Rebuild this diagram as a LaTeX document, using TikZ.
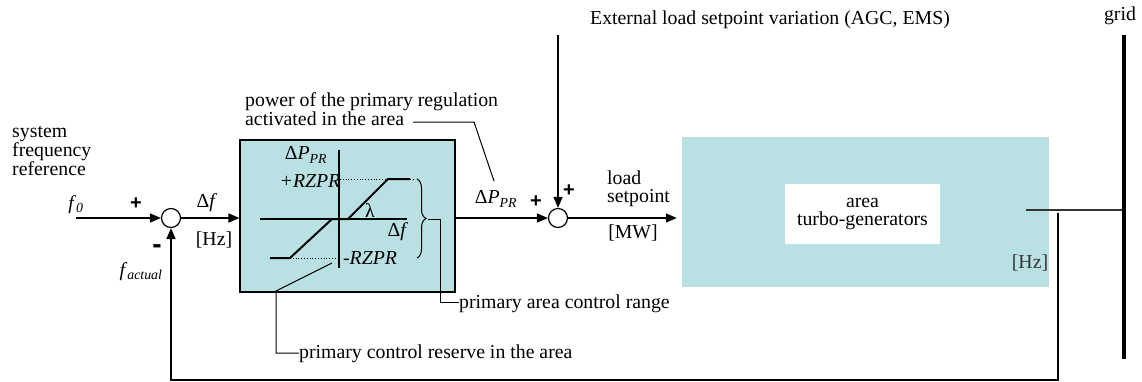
\documentclass[tikz,border=0pt]{standalone}
\usepackage{fontspec}
\setmainfont{Liberation Serif}
\newfontfamily\signfont{Liberation Sans}
\usetikzlibrary{arrows.meta,decorations.pathreplacing}
\definecolor{boxc}{HTML}{B9E0E3}
\definecolor{dgray}{HTML}{333333}
\begin{document}
\begin{tikzpicture}[x=1pt,y=-1pt,
  every node/.style={font=\fontsize{19.8}{18}\selectfont, inner sep=0pt},
  arr/.style={line width=1.6pt,-{Triangle[length=11pt,width=9pt]}},
  ln/.style={line width=1.6pt},
  thinln/.style={line width=1.1pt},
  lead/.style={line width=1pt},
  dots/.style={line width=0.8pt,dotted},
  curve/.style={line width=2pt},
  sumj/.style={circle,draw,line width=1.2pt,minimum size=19pt,fill=white},
  pm/.style={font=\signfont\fontsize{20}{20}\selectfont\bfseries},
  mn/.style={font=\signfont\fontsize{28}{28}\selectfont\bfseries},
  lab/.style={anchor=west,align=left},
]
\useasboundingbox (0,0) rectangle (1142,381);

% blocks
\node[draw, fill=boxc, line width=1.2pt, minimum width=215pt, minimum height=152pt] (b1) at (347.5,216) {};
\node[fill=boxc, minimum width=367pt, minimum height=150pt] (b2) at (865.5,212) {};
\node[fill=white, minimum width=155pt, minimum height=60pt, align=center] (tg) at (862.5,214) {area\\turbo-generators};
\node[text=dgray] (hz2) at (1030,263) {[Hz]};

% summing junctions
\node[sumj] (s1) at (171,218) {};
\node[sumj] (s2) at (558,218) {};

% coordinates
\coordinate (fin) at (76,218);
\coordinate (ext) at (558,35);
\coordinate (gtop) at (1124,35);
\coordinate (gbot) at (1124,359);
\coordinate (gout) at (1026,210);
\coordinate (gin) at (1124,210);
\coordinate (fbtop) at (1058,213);
\coordinate (fbbot) at (1058,380);
\coordinate (fbleft) at (171,380);

% texts
\node (ext-t) at (770,20) {External load setpoint variation (AGC, EMS)};
\node (grid-t) at (1120,16) {grid};
\node[lab] (sfr) at (12,151) {system\\frequency\\reference};
\node (f0) at (76,205) {\textit{f}\textsubscript{\textit{0}}};
\node[pm] (p1) at (136,204) {+};
\node[mn] (m1) at (157,249) {-};
\node (fact) at (141,272) {\textit{f}\textsubscript{\textit{actual}}};
\node (df) at (207,203) {Δ\textit{f}};
\node (hz1) at (214,240) {[Hz]};
\node[lab] (pow) at (245,109) {power of the primary regulation\\activated in the area};
\node (dppr) at (496,199) {Δ\textit{P}\textsubscript{\textit{PR}}};
\node[pm] (p2) at (536,202) {+};
\node[pm] (p3) at (569,191) {+};
\node[lab] (ls) at (607,189) {load\\setpoint};
\node (mw) at (633,233) {[MW]};
\node[lab] (pacr) at (459,304) {primary area control range};
\node[lab] (pcr) at (299,354) {primary control reserve in the area};

% characteristic inside block 1
\node (dpin) at (306,155) {Δ\textit{P}\textsubscript{\textit{PR}}};
\node (rzp) at (310,181) {\textit{+RZPR}};
\node (rzm) at (370,258) {\textit{-RZPR}};
\node (dfin) at (398,232) {Δ\textit{f}};
\node (lam) at (370,211) {λ};
\coordinate (vt) at (339,150);
\coordinate (vb) at (339,268);
\coordinate (hl) at (260,219);
\coordinate (hr) at (407,219);
\draw[thinln] (vt) -- (vb);
\draw[thinln] (hl) -- (hr);
\draw[dots] (340,179) -- (388,179);
\draw[dots] (410,179) -- (415,179);
\draw[dots] (290,258) -- (339,258);
\draw[curve] (270,258) -- (290,258) -- (332,219) -- (348,219) -- (388,179) -- (410,179);
\draw[lead, decorate, decoration={brace, amplitude=9pt}] (417,179) -- (417,258);
\coordinate (brtip) at (428,219);

% leaders
\draw[lead] (brtip) -- (440,219) -- (440,302) -- (pacr.west |- 0,302);
\draw[lead] (332,263) -- (276,291) -- (276,353) -- (pcr.west |- 0,353);
\draw[lead] (413,122) -- (474,122) -- (494,181);

% signal flow
\draw[arr] (fin) -- (s1.west);
\draw[arr] (s1.east) -- (s1.east -| b1.west);
\draw[arr] (s2.west -| b1.east) -- (s2.west);
\draw[arr] (ext) -- (s2.north);
\draw[arr] (s2.east) -- ([xshift=-5pt]s2.east -| b2.west);
\draw[ln, dgray] (gout) -- (gin);
\draw[line width=3.2pt] (gtop) -- (gbot);
\draw[arr] (fbtop) -- (fbbot) -- (fbleft) -- (s1.south);
\end{tikzpicture}
\end{document}
